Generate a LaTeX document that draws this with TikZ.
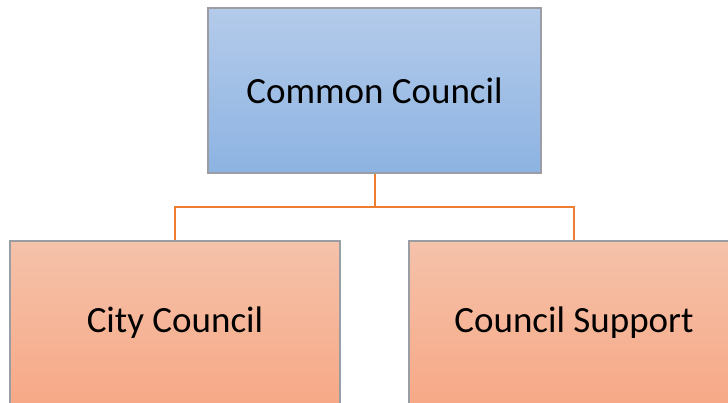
\documentclass[tikz,border=0pt]{standalone}
\usepackage{fontspec}
\setmainfont{Carlito}
\begin{document}
\definecolor{bluetop}{HTML}{B4CBEA}
\definecolor{bluebot}{HTML}{8DB3E2}
\definecolor{salmtop}{HTML}{F5C2AA}
\definecolor{salmbot}{HTML}{F7A683}
\definecolor{edgegray}{HTML}{9A9EA4}
\definecolor{linkorange}{HTML}{ED7D31}
\begin{tikzpicture}[x=1pt,y=-1pt,
  boxtext/.style={font=\fontsize{37}{42}\selectfont},
  headbox/.style={rectangle, inner sep=0pt, top color=bluetop, bottom color=bluebot,
    draw=edgegray, line width=1.2pt, boxtext},
  unitbox/.style={rectangle, inner sep=0pt, top color=salmtop, bottom color=salmbot,
    draw=edgegray, line width=1.2pt},
  link/.style={draw=linkorange, line width=2pt}]
  \useasboundingbox (0,0) rectangle (728,402);
  \begin{scope}
    \clip (0,0) rectangle (728,402);
    \node[headbox, minimum width=333pt, minimum height=165pt] (common) at (374.5,90.5) {Common Council};
    \node[unitbox, minimum width=330pt, minimum height=180pt] (city) at (175,331) {};
    \node[unitbox, minimum width=330pt, minimum height=180pt] (support) at (574,331) {};
    \node[boxtext] (citylabel) at (175,323) {City Council};
    \node[boxtext] (supportlabel) at (574,323) {Council Support};
    \coordinate (split) at (374.5,207);
    \draw[link] (common.south) -- (split) -| (city.north -| citylabel);
    \draw[link] (split) -| (support.north -| supportlabel);
  \end{scope}
\end{tikzpicture}
\end{document}
